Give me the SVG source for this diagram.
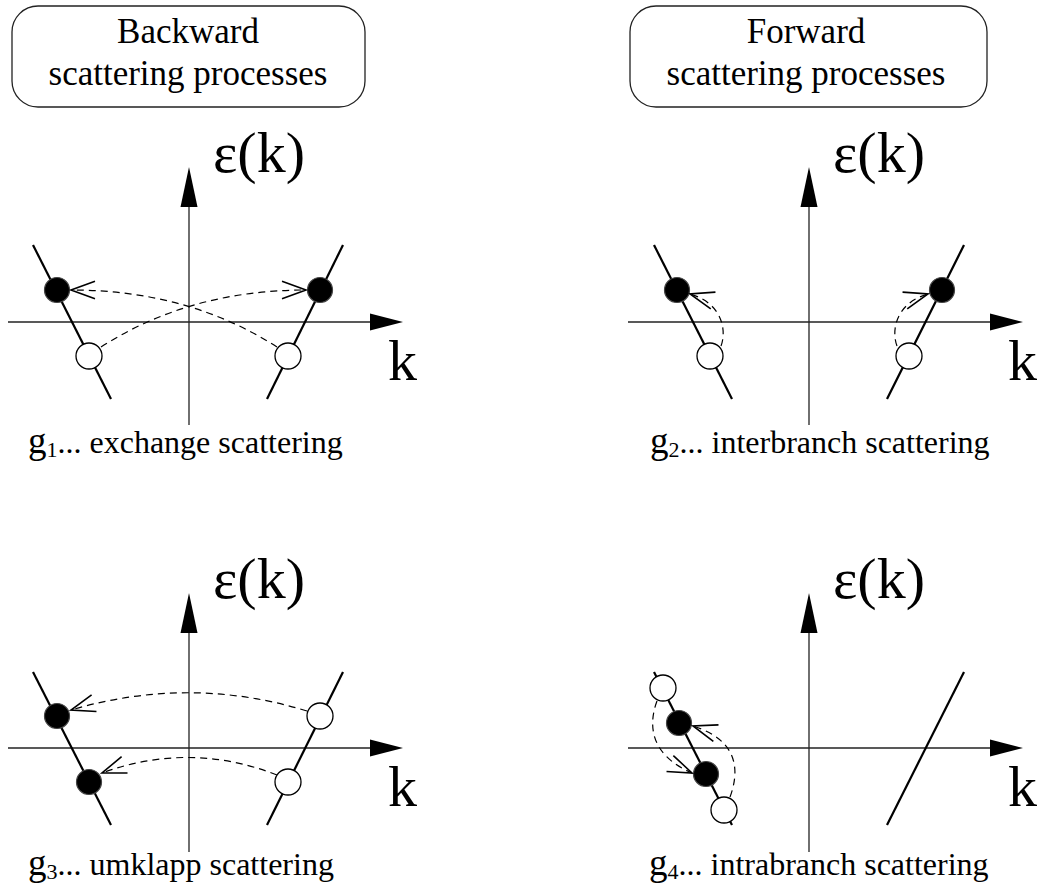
<svg xmlns="http://www.w3.org/2000/svg" width="1038" height="891" viewBox="0 0 1038 891">
<style>
text{font-family:'Liberation Serif','Times New Roman',serif;fill:#000}
.title{font-size:35px;text-anchor:middle}
.big{font-size:58px}
.lab{font-size:32px}
.g{font-size:37px}
.sub{font-size:22px}
.box{fill:#fff;stroke:#222;stroke-width:1.3}
.axis{stroke:#222;stroke-width:1.3;fill:none}
.head{fill:#000;stroke:none}
.branch{stroke:#000;stroke-width:2.2;fill:none}
.full{fill:#000;stroke:#444;stroke-width:1.2}
.empty{fill:#fff;stroke:#000;stroke-width:1.3}
.dash{fill:none;stroke:#000;stroke-width:1.2;stroke-dasharray:7,5;marker-end:url(#chev)}
</style>
<defs>
<marker id="chev" markerUnits="userSpaceOnUse" markerWidth="40" markerHeight="40" viewBox="-20 -10 30 20" refX="0" refY="0" orient="auto" overflow="visible">
<path d="M-18,-6.5 L0,0 L-18,6.5" fill="none" stroke="#000" stroke-width="1.2"/>
</marker>
</defs>
<rect width="1038" height="891" fill="#fff"/>

<g id="box-backward">
<rect class="box" x="12" y="6" width="353" height="101" rx="26" ry="26"/>
<text class="title" x="188" y="43">Backward</text>
<text class="title" x="188" y="85">scattering processes</text>
</g>
<g id="box-forward">
<rect class="box" x="630" y="6" width="357" height="101" rx="26" ry="26"/>
<text class="title" x="806" y="43">Forward</text>
<text class="title" x="806" y="85">scattering processes</text>
</g>

<g id="panel-g1">
<line class="axis" x1="8" y1="322" x2="370" y2="322"/>
<polygon class="head" points="370,313.5 403,322 370,330.5"/>
<line class="axis" x1="189" y1="425" x2="189" y2="206"/>
<polygon class="head" points="180.5,207 189,167 197.5,207"/>
<text class="big" x="213" y="172">ε(k)</text>
<text class="big" x="388" y="380">k</text>
<line class="branch" x1="33" y1="245" x2="111" y2="399"/>
<line class="branch" x1="343" y1="245" x2="267" y2="399"/>
<circle class="full" cx="57" cy="290" r="12.5"/>
<circle class="full" cx="320" cy="290" r="12.5"/>
<circle class="empty" cx="89" cy="356" r="13"/>
<circle class="empty" cx="288" cy="356" r="13"/>
<text class="lab" x="28" y="453"><tspan class="g">g</tspan><tspan class="sub" dy="4">1</tspan><tspan dy="-4">... exchange scattering</tspan></text>
</g>

<g id="panel-g2">
<line class="axis" x1="628" y1="322" x2="990" y2="322"/>
<polygon class="head" points="990,313.5 1023,322 990,330.5"/>
<line class="axis" x1="809" y1="425" x2="809" y2="206"/>
<polygon class="head" points="800.5,207 809,167 817.5,207"/>
<text class="big" x="833" y="172">ε(k)</text>
<text class="big" x="1008" y="380">k</text>
<line class="branch" x1="654" y1="245" x2="732" y2="399"/>
<line class="branch" x1="964" y1="245" x2="887" y2="399"/>
<circle class="full" cx="677" cy="290" r="12.5"/>
<circle class="full" cx="942" cy="290" r="12.5"/>
<circle class="empty" cx="710" cy="356" r="13"/>
<circle class="empty" cx="909" cy="356" r="13"/>
<text class="lab" x="650" y="453"><tspan class="g">g</tspan><tspan class="sub" dy="4">2</tspan><tspan dy="-4">... interbranch scattering</tspan></text>
</g>

<g id="panel-g3">
<line class="axis" x1="8" y1="748" x2="370" y2="748"/>
<polygon class="head" points="370,739.5 403,748 370,756.5"/>
<line class="axis" x1="189" y1="852" x2="189" y2="632"/>
<polygon class="head" points="180.5,633 189,593 197.5,633"/>
<text class="big" x="213" y="598">ε(k)</text>
<text class="big" x="388" y="806">k</text>
<line class="branch" x1="33" y1="672" x2="111" y2="825"/>
<line class="branch" x1="343" y1="672" x2="267" y2="825"/>
<circle class="full" cx="57" cy="716" r="12.5"/>
<circle class="full" cx="89" cy="782" r="12.5"/>
<circle class="empty" cx="320" cy="716" r="13"/>
<circle class="empty" cx="288" cy="782" r="13"/>
<text class="lab" x="28" y="875"><tspan class="g">g</tspan><tspan class="sub" dy="4">3</tspan><tspan dy="-4">... umklapp scattering</tspan></text>
</g>

<g id="panel-g4">
<line class="axis" x1="628" y1="748" x2="990" y2="748"/>
<polygon class="head" points="990,739.5 1023,748 990,756.5"/>
<line class="axis" x1="809" y1="852" x2="809" y2="632"/>
<polygon class="head" points="800.5,633 809,593 817.5,633"/>
<text class="big" x="833" y="598">ε(k)</text>
<text class="big" x="1008" y="806">k</text>
<line class="branch" x1="654" y1="672" x2="732" y2="825"/>
<line class="branch" x1="964" y1="672" x2="887" y2="825"/>
<circle class="empty" cx="663" cy="688" r="13"/>
<circle class="full" cx="679" cy="723" r="12.5"/>
<circle class="full" cx="706" cy="774" r="12.5"/>
<circle class="empty" cx="724" cy="810" r="13"/>
<text class="lab" x="649" y="875"><tspan class="g">g</tspan><tspan class="sub" dy="4">4</tspan><tspan dy="-4">... intrabranch scattering</tspan></text>
</g>

<g id="connectors">
<path class="dash" d="M101,347 Q190,290 306,290"/>
<path class="dash" d="M277,347 Q188,290 71,290"/>
<path class="dash" d="M721,346 C727,330 722,303 690,294"/>
<path class="dash" d="M897,346 C891,330 896,303 928,294"/>
<path class="dash" d="M307,711 Q190,675 71,710"/>
<path class="dash" d="M277,775 Q190,741 102,773"/>
<path class="dash" d="M657,701 C648,725 650,755 692,773"/>
<path class="dash" d="M730,797 C740,770 738,740 693,726"/>
</g>
</svg>
